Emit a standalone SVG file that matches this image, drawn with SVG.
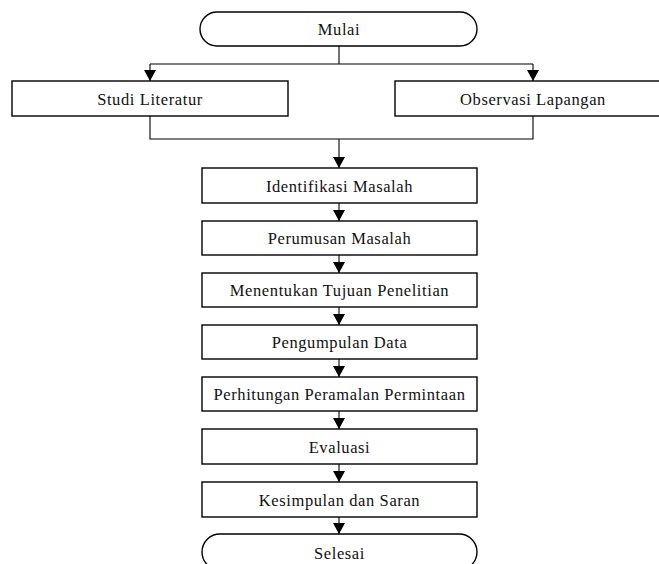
<svg xmlns="http://www.w3.org/2000/svg" width="659" height="564" viewBox="0 0 659 564">
<style>
.box{fill:#fff;stroke:#000;stroke-width:1.4}
.lbl{font-family:"Liberation Serif","Times New Roman",serif;font-size:16.5px;letter-spacing:0.6px;text-anchor:middle;fill:#111}
.ln{fill:none;stroke:#000;stroke-width:1.1}
</style>
<defs>
<marker id="ah" markerUnits="userSpaceOnUse" markerWidth="11" markerHeight="12" refX="11" refY="6" orient="auto">
<path d="M0,0 L11,6 L0,12 z" fill="#000"/>
</marker>
</defs>
<rect width="659" height="564" fill="#fff"/>
<g id="connectors">
<path class="ln" d="M339,46 V64 M150,64 H533"/>
<path class="ln" d="M150,64 V81" marker-end="url(#ah)"/>
<path class="ln" d="M533,64 V81" marker-end="url(#ah)"/>
<path class="ln" d="M150,116 V139 H533 V116"/>
<path class="ln" d="M339,139 V168" marker-end="url(#ah)"/>
<path class="ln" d="M339,203 V221" marker-end="url(#ah)"/>
<path class="ln" d="M339,255 V273" marker-end="url(#ah)"/>
<path class="ln" d="M339,307 V325" marker-end="url(#ah)"/>
<path class="ln" d="M339,359 V377" marker-end="url(#ah)"/>
<path class="ln" d="M339,411 V429" marker-end="url(#ah)"/>
<path class="ln" d="M339,464 V482" marker-end="url(#ah)"/>
<path class="ln" d="M339,517 V534" marker-end="url(#ah)"/>
</g>
<g id="mulai"><rect class="box" x="200" y="12" width="277" height="34" rx="17"/><text class="lbl" x="339" y="34.5">Mulai</text></g>
<g id="studi"><rect class="box" x="12" y="81" width="276" height="35"/><text class="lbl" x="150" y="104.5">Studi Literatur</text></g>
<g id="observasi"><rect class="box" x="395" y="81" width="276" height="35"/><text class="lbl" x="533" y="104.5">Observasi Lapangan</text></g>
<g id="identifikasi"><rect class="box" x="202" y="168" width="275" height="35"/><text class="lbl" x="339.5" y="191.5">Identifikasi Masalah</text></g>
<g id="perumusan"><rect class="box" x="202" y="221" width="275" height="34"/><text class="lbl" x="339.5" y="244">Perumusan Masalah</text></g>
<g id="tujuan"><rect class="box" x="202" y="273" width="275" height="34"/><text class="lbl" x="339.5" y="296">Menentukan Tujuan Penelitian</text></g>
<g id="pengumpulan"><rect class="box" x="202" y="325" width="275" height="34"/><text class="lbl" x="339.5" y="348">Pengumpulan Data</text></g>
<g id="perhitungan"><rect class="box" x="202" y="377" width="275" height="34"/><text class="lbl" x="339.5" y="400">Perhitungan Peramalan Permintaan</text></g>
<g id="evaluasi"><rect class="box" x="202" y="429" width="275" height="35"/><text class="lbl" x="339.5" y="452.5">Evaluasi</text></g>
<g id="kesimpulan"><rect class="box" x="202" y="482" width="275" height="35"/><text class="lbl" x="339.5" y="505.5">Kesimpulan dan Saran</text></g>
<g id="selesai"><rect class="box" x="202" y="534" width="275" height="36" rx="18"/><text class="lbl" x="339.5" y="559">Selesai</text></g>
</svg>
